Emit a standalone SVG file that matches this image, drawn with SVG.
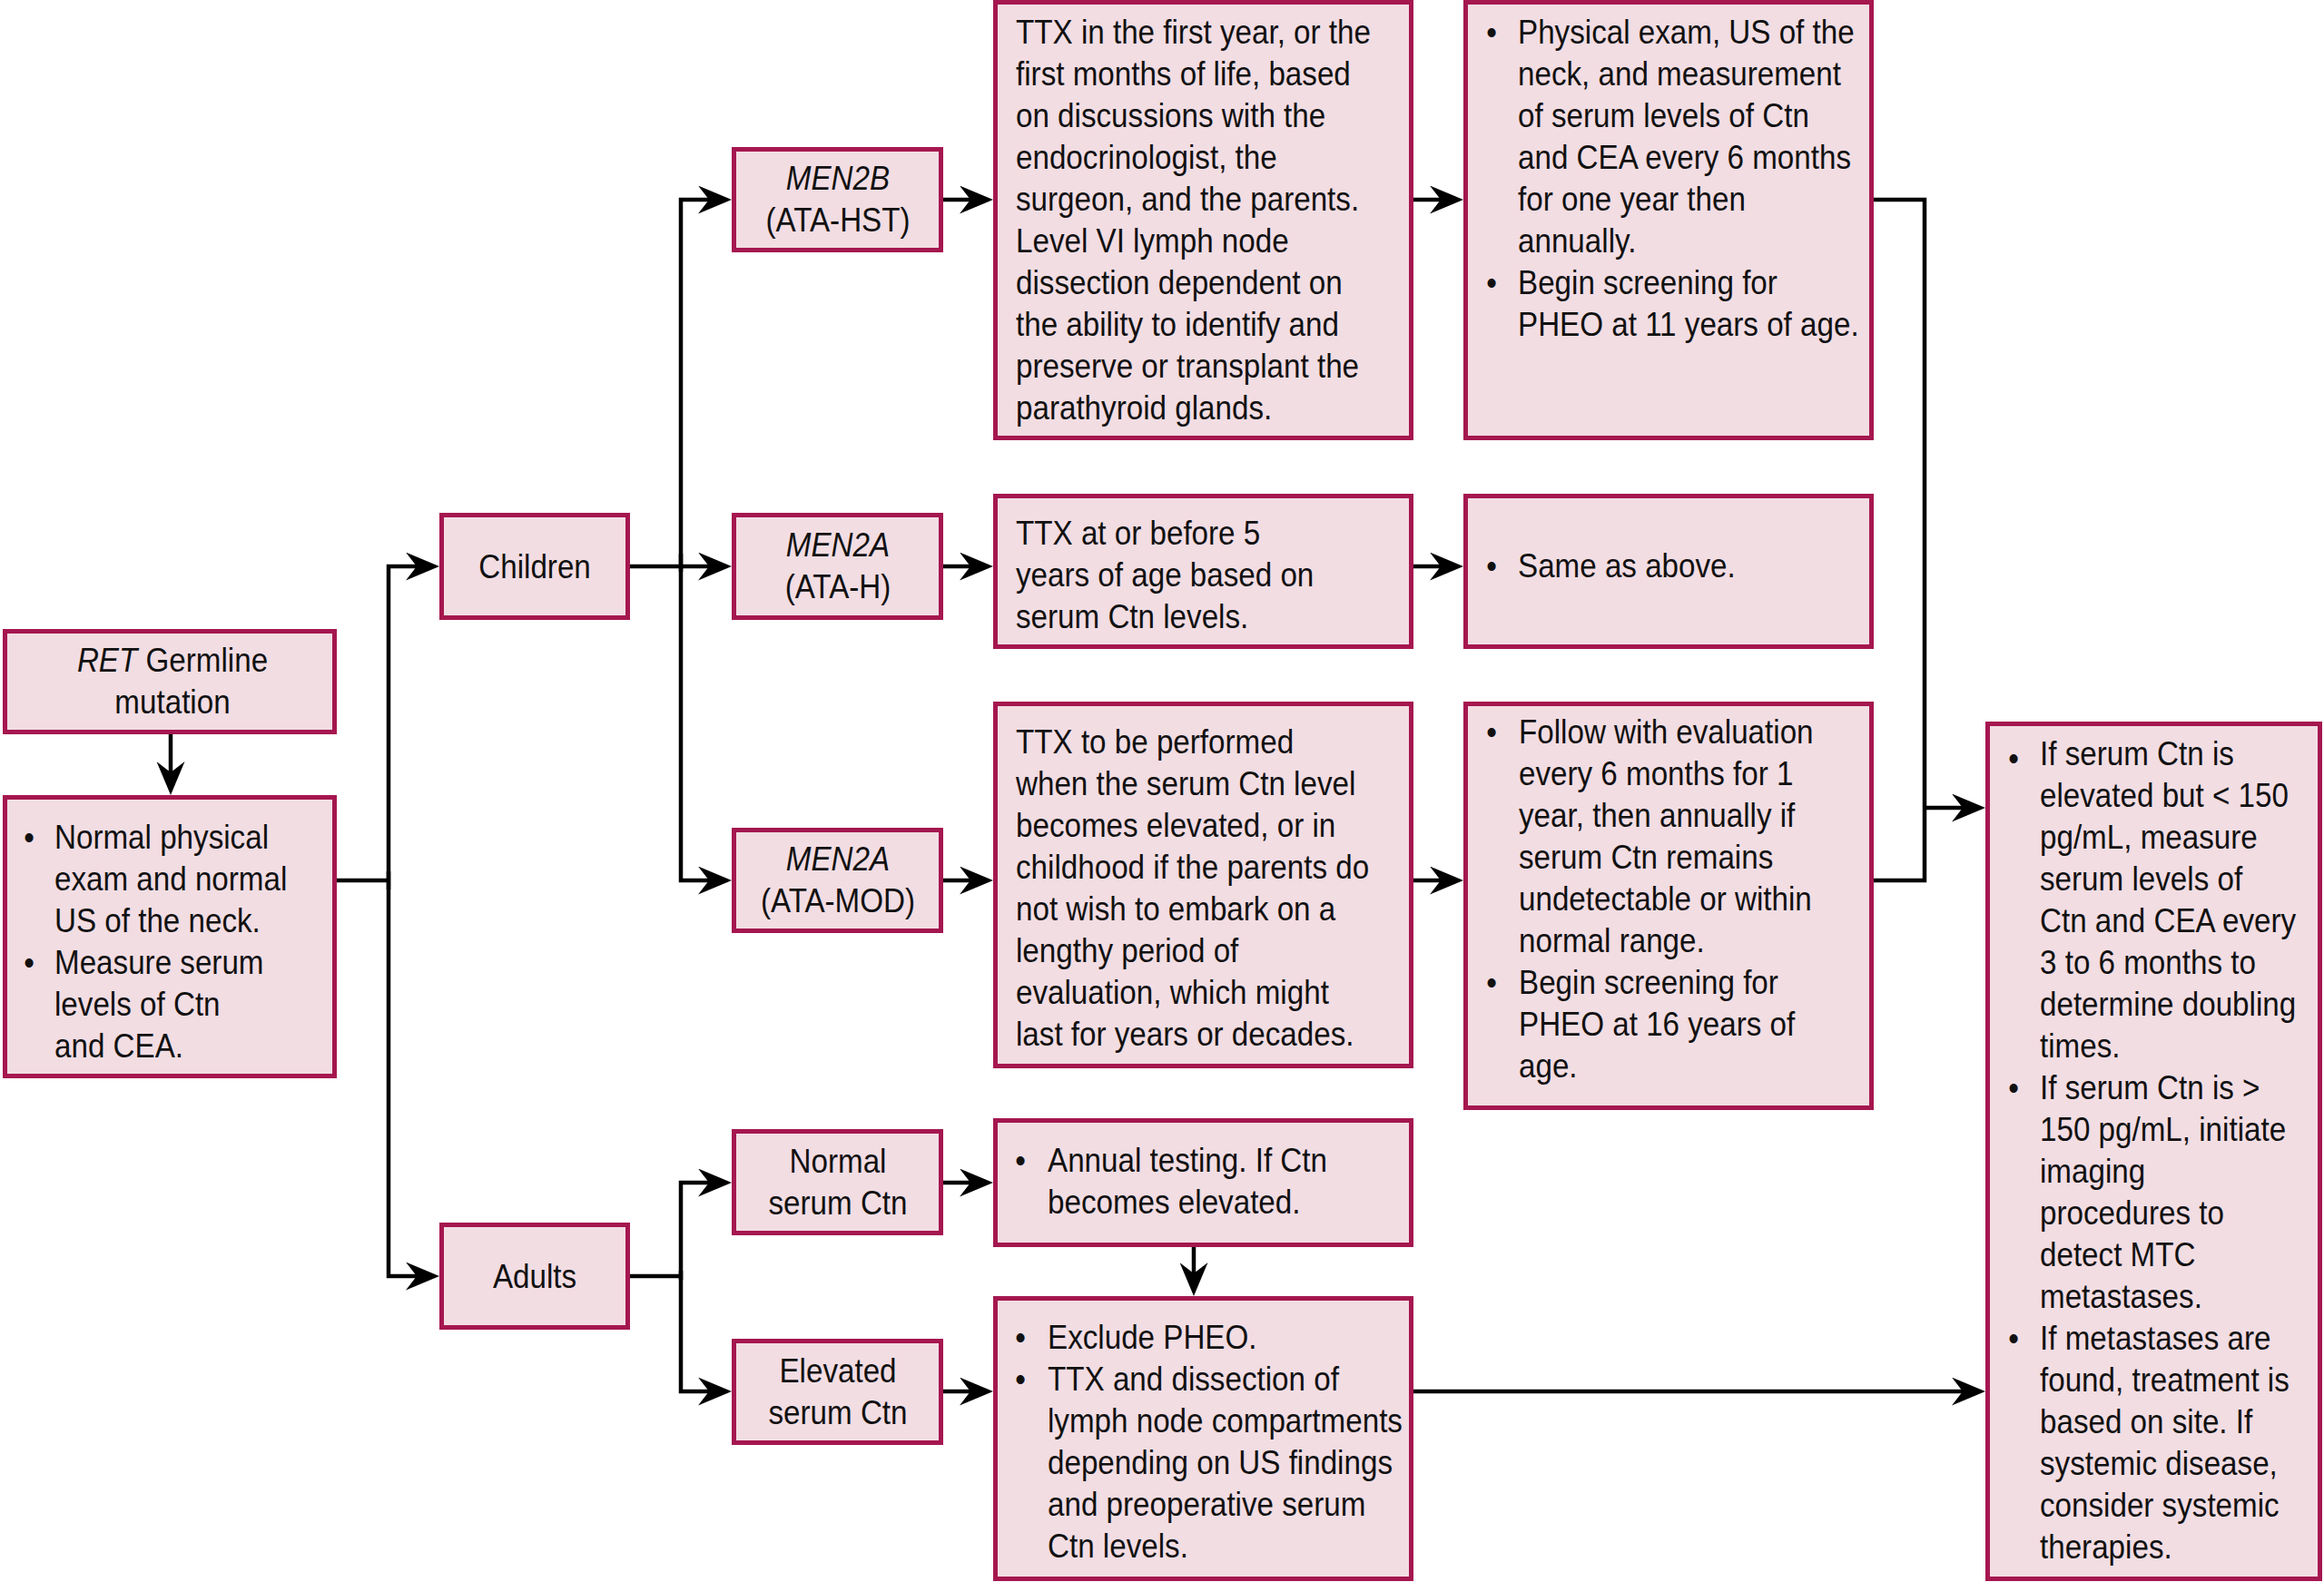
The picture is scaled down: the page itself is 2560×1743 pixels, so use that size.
<svg xmlns="http://www.w3.org/2000/svg" width="2560" height="1743" viewBox="0 0 2560 1743">
<style>
.box rect{fill:#f2dde3;stroke:#a5174f;stroke-width:5}
text{font-family:"Liberation Sans",Arial,Helvetica,sans-serif;font-size:36px;fill:#111}
.m{text-anchor:middle}
.i{font-style:italic}
.conn path{fill:none;stroke:#000;stroke-width:4.5}
</style>
<defs>
<marker id="ah" viewBox="0 0 37 31" markerWidth="37" markerHeight="31" markerUnits="userSpaceOnUse" refX="17" refY="15.5" orient="auto">
<path d="M0,0 L37,15.5 L0,31 L12,15.5 Z" fill="#000"/>
</marker>
</defs>
<rect width="2560" height="1743" fill="#fff"/>

<g class="conn">
<path d="M188,809 V856" marker-end="url(#ah)"/>
<path d="M371,970 H428"/>
<path d="M428,980 V624 H464" marker-end="url(#ah)"/>
<path d="M428,960 V1406 H464" marker-end="url(#ah)"/>
<path d="M694,624 H786" marker-end="url(#ah)"/>
<path d="M750,630 V220 H786" marker-end="url(#ah)"/>
<path d="M750,610 V970 H786" marker-end="url(#ah)"/>
<path d="M694,1406 H750"/>
<path d="M750,1410 V1303 H786" marker-end="url(#ah)"/>
<path d="M750,1400 V1533 H786" marker-end="url(#ah)"/>
<path d="M1039,220 H1074" marker-end="url(#ah)"/>
<path d="M1039,624 H1074" marker-end="url(#ah)"/>
<path d="M1039,970 H1074" marker-end="url(#ah)"/>
<path d="M1039,1303 H1074" marker-end="url(#ah)"/>
<path d="M1039,1533 H1074" marker-end="url(#ah)"/>
<path d="M1557,220 H1592" marker-end="url(#ah)"/>
<path d="M1557,624 H1592" marker-end="url(#ah)"/>
<path d="M1557,970 H1592" marker-end="url(#ah)"/>
<path d="M2064,220 H2120 V970 H2064"/>
<path d="M2120,890 H2167" marker-end="url(#ah)"/>
<path d="M1315,1374 V1408" marker-end="url(#ah)"/>
<path d="M1557,1533 H2167" marker-end="url(#ah)"/>
</g>

<g id="ret" class="box">
<rect x="5.5" y="695.5" width="363" height="111"/>
<g transform="translate(190,0) scale(0.922,1)">
<text class="m" x="0" y="740"><tspan class="i">RET</tspan> Germline</text>
<text class="m" x="0" y="786">mutation</text>
</g>
</g>

<g id="normal-exam" class="box">
<rect x="5.5" y="878.5" width="363" height="307"/>
<g transform="translate(60,0) scale(0.922,1)">
<text class="m" x="-30.4" y="935">•</text>
<text x="0" y="935">Normal physical</text>
<text x="0" y="981">exam and normal</text>
<text x="0" y="1027">US of the neck.</text>
<text class="m" x="-30.4" y="1073">•</text>
<text x="0" y="1073">Measure serum</text>
<text x="0" y="1119">levels of Ctn</text>
<text x="0" y="1165">and CEA.</text>
</g>
</g>

<g id="children" class="box">
<rect x="486.5" y="567.5" width="205" height="113"/>
<g transform="translate(589,0) scale(0.922,1)">
<text class="m" x="0" y="637">Children</text>
</g>
</g>

<g id="adults" class="box">
<rect x="486.5" y="1349.5" width="205" height="113"/>
<g transform="translate(589,0) scale(0.922,1)">
<text class="m" x="0" y="1419">Adults</text>
</g>
</g>

<g id="men2b" class="box">
<rect x="808.5" y="164.5" width="228" height="111"/>
<g transform="translate(923,0) scale(0.922,1)">
<text class="m i" x="0" y="209">MEN2B</text>
<text class="m" x="0" y="255">(ATA-HST)</text>
</g>
</g>

<g id="men2a-h" class="box">
<rect x="808.5" y="567.5" width="228" height="113"/>
<g transform="translate(923,0) scale(0.922,1)">
<text class="m i" x="0" y="613">MEN2A</text>
<text class="m" x="0" y="659">(ATA-H)</text>
</g>
</g>

<g id="men2a-mod" class="box">
<rect x="808.5" y="914.5" width="228" height="111"/>
<g transform="translate(923,0) scale(0.922,1)">
<text class="m i" x="0" y="959">MEN2A</text>
<text class="m" x="0" y="1005">(ATA-MOD)</text>
</g>
</g>

<g id="normal-ctn" class="box">
<rect x="808.5" y="1246.5" width="228" height="112"/>
<g transform="translate(923,0) scale(0.922,1)">
<text class="m" x="0" y="1292">Normal</text>
<text class="m" x="0" y="1338">serum Ctn</text>
</g>
</g>

<g id="elevated-ctn" class="box">
<rect x="808.5" y="1477.5" width="228" height="112"/>
<g transform="translate(923,0) scale(0.922,1)">
<text class="m" x="0" y="1523">Elevated</text>
<text class="m" x="0" y="1569">serum Ctn</text>
</g>
</g>

<g id="ttx-men2b" class="box">
<rect x="1096.5" y="2.5" width="458" height="480"/>
<g transform="translate(1119,0) scale(0.922,1)">
<text x="0" y="48">TTX in the first year, or the</text>
<text x="0" y="94">first months of life, based</text>
<text x="0" y="140">on discussions with the</text>
<text x="0" y="186">endocrinologist, the</text>
<text x="0" y="232">surgeon, and the parents.</text>
<text x="0" y="278">Level VI lymph node</text>
<text x="0" y="324">dissection dependent on</text>
<text x="0" y="370">the ability to identify and</text>
<text x="0" y="416">preserve or transplant the</text>
<text x="0" y="462">parathyroid glands.</text>
</g>
</g>

<g id="ttx-men2a-h" class="box">
<rect x="1096.5" y="546.5" width="458" height="166"/>
<g transform="translate(1119,0) scale(0.922,1)">
<text x="0" y="600">TTX at or before 5</text>
<text x="0" y="646">years of age based on</text>
<text x="0" y="692">serum Ctn levels.</text>
</g>
</g>

<g id="ttx-men2a-mod" class="box">
<rect x="1096.5" y="775.5" width="458" height="399"/>
<g transform="translate(1119,0) scale(0.922,1)">
<text x="0" y="830">TTX to be performed</text>
<text x="0" y="876">when the serum Ctn level</text>
<text x="0" y="922">becomes elevated, or in</text>
<text x="0" y="968">childhood if the parents do</text>
<text x="0" y="1014">not wish to embark on a</text>
<text x="0" y="1060">lengthy period of</text>
<text x="0" y="1106">evaluation, which might</text>
<text x="0" y="1152">last for years or decades.</text>
</g>
</g>

<g id="annual" class="box">
<rect x="1096.5" y="1234.5" width="458" height="137"/>
<g transform="translate(1154,0) scale(0.922,1)">
<text class="m" x="-32.5" y="1291">•</text>
<text x="0" y="1291">Annual testing. If Ctn</text>
<text x="0" y="1337">becomes elevated.</text>
</g>
</g>

<g id="exclude" class="box">
<rect x="1096.5" y="1430.5" width="458" height="309"/>
<g transform="translate(1154,0) scale(0.922,1)">
<text class="m" x="-32.5" y="1486">•</text>
<text x="0" y="1486">Exclude PHEO.</text>
<text class="m" x="-32.5" y="1532">•</text>
<text x="0" y="1532">TTX and dissection of</text>
<text x="0" y="1578">lymph node compartments</text>
<text x="0" y="1624">depending on US findings</text>
<text x="0" y="1670">and preoperative serum</text>
<text x="0" y="1716">Ctn levels.</text>
</g>
</g>

<g id="follow-men2b" class="box">
<rect x="1614.5" y="2.5" width="447" height="480"/>
<g transform="translate(1672,0) scale(0.922,1)">
<text class="m" x="-31.5" y="48">•</text>
<text x="0" y="48">Physical exam, US of the</text>
<text x="0" y="94">neck, and measurement</text>
<text x="0" y="140">of serum levels of Ctn</text>
<text x="0" y="186">and CEA every 6 months</text>
<text x="0" y="232">for one year then</text>
<text x="0" y="278">annually.</text>
<text class="m" x="-31.5" y="324">•</text>
<text x="0" y="324">Begin screening for</text>
<text x="0" y="370">PHEO at 11 years of age.</text>
</g>
</g>

<g id="follow-men2a-h" class="box">
<rect x="1614.5" y="546.5" width="447" height="166"/>
<g transform="translate(1672,0) scale(0.922,1)">
<text class="m" x="-31.5" y="636">•</text>
<text x="0" y="636">Same as above.</text>
</g>
</g>

<g id="follow-men2a-mod" class="box">
<rect x="1614.5" y="775.5" width="447" height="445"/>
<g transform="translate(1673,0) scale(0.922,1)">
<text class="m" x="-32.5" y="819">•</text>
<text x="0" y="819">Follow with evaluation</text>
<text x="0" y="865">every 6 months for 1</text>
<text x="0" y="911">year, then annually if</text>
<text x="0" y="957">serum Ctn remains</text>
<text x="0" y="1003">undetectable or within</text>
<text x="0" y="1049">normal range.</text>
<text class="m" x="-32.5" y="1095">•</text>
<text x="0" y="1095">Begin screening for</text>
<text x="0" y="1141">PHEO at 16 years of</text>
<text x="0" y="1187">age.</text>
</g>
</g>

<g id="metastases" class="box">
<rect x="2189.5" y="797.5" width="366" height="942"/>
<g transform="translate(2247,0) scale(0.922,1)">
<text class="m" x="-31.5" y="848">•</text>
<text x="0" y="843">If serum Ctn is</text>
<text x="0" y="889">elevated but &lt; 150</text>
<text x="0" y="935">pg/mL, measure</text>
<text x="0" y="981">serum levels of</text>
<text x="0" y="1027">Ctn and CEA every</text>
<text x="0" y="1073">3 to 6 months to</text>
<text x="0" y="1119">determine doubling</text>
<text x="0" y="1165">times.</text>
<text class="m" x="-31.5" y="1211">•</text>
<text x="0" y="1211">If serum Ctn is &gt;</text>
<text x="0" y="1257">150 pg/mL, initiate</text>
<text x="0" y="1303">imaging</text>
<text x="0" y="1349">procedures to</text>
<text x="0" y="1395">detect MTC</text>
<text x="0" y="1441">metastases.</text>
<text class="m" x="-31.5" y="1487">•</text>
<text x="0" y="1487">If metastases are</text>
<text x="0" y="1533">found, treatment is</text>
<text x="0" y="1579">based on site. If</text>
<text x="0" y="1625">systemic disease,</text>
<text x="0" y="1671">consider systemic</text>
<text x="0" y="1717">therapies.</text>
</g>
</g>
</svg>
